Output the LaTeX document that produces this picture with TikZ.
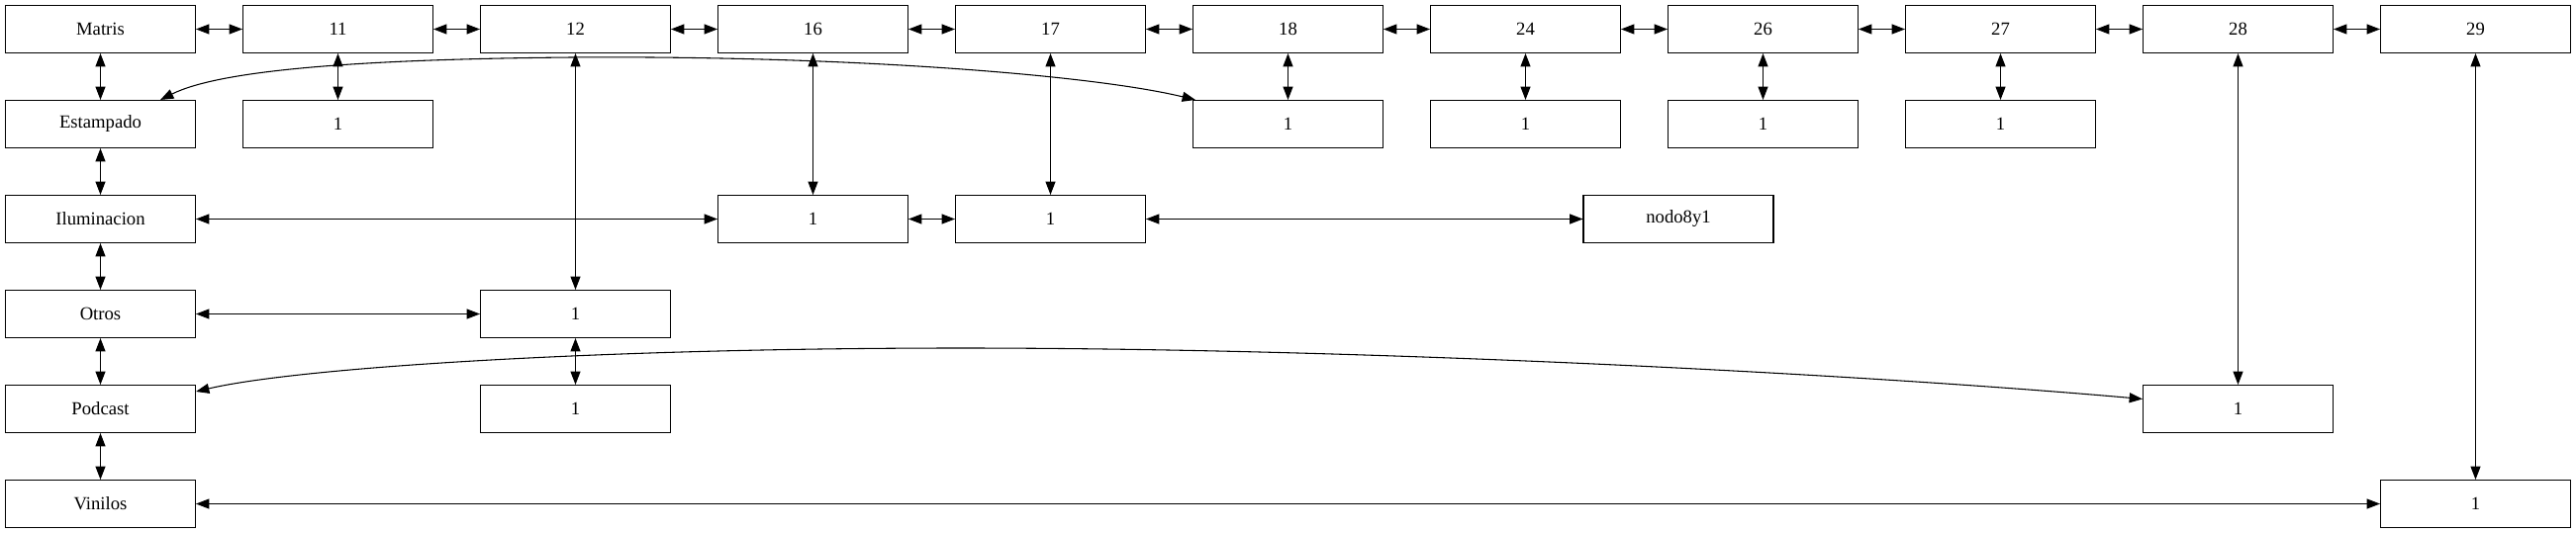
\documentclass[tikz,border=0pt]{standalone}
\usepackage{fontspec}
\setmainfont{Liberation Serif}
\usetikzlibrary{arrows.meta,calc}
\begin{document}
\begin{tikzpicture}[x=0.75pt,y=-0.75pt,
  box/.style={draw,line width=0.8pt,minimum width=144pt,minimum height=36pt,inner sep=0pt,font=\fontsize{14}{16}\selectfont},
  link/.style={line width=0.8pt,{Triangle[length=10pt,width=7.5pt]}-{Triangle[length=10pt,width=7.5pt]}}]
\useasboundingbox (0,0) rectangle (2603,539);
% row 0
\node[box] (m)   at (101.5,29.5) {Matris};
\node[box] (n11) at (341.5,29.5) {11};
\node[box] (n12) at (581.5,29.5) {12};
\node[box] (n16) at (821.5,29.5) {16};
\node[box] (n17) at (1061.5,29.5) {17};
\node[box] (n18) at (1301.5,29.5) {18};
\node[box] (n24) at (1541.5,29.5) {24};
\node[box] (n26) at (1781.5,29.5) {26};
\node[box] (n27) at (2021.5,29.5) {27};
\node[box] (n28) at (2261.5,29.5) {28};
\node[box] (n29) at (2501.5,29.5) {29};
% row 1
\node[box] (est) at (101.5,125.5) {Estampado};
\node[box] (a11) at (341.5,125.5) {1};
\node[box] (a18) at (1301.5,125.5) {1};
\node[box] (a24) at (1541.5,125.5) {1};
\node[box] (a26) at (1781.5,125.5) {1};
\node[box] (a27) at (2021.5,125.5) {1};
% row 2
\node[box] (ilu) at (101.5,221.5) {Iluminacion};
\node[box] (b16) at (821.5,221.5) {1};
\node[box] (b17) at (1061.5,221.5) {1};
\node[box] (nodo) at (1696,221.5) {nodo8y1};
% row 3
\node[box] (otr) at (101.5,317.5) {Otros};
\node[box] (c12) at (581.5,317.5) {1};
% row 4
\node[box] (pod) at (101.5,413.5) {Podcast};
\node[box] (d12) at (581.5,413.5) {1};
\node[box] (d28) at (2261.5,413.5) {1};
% row 5
\node[box] (vin) at (101.5,509.5) {Vinilos};
\node[box] (e29) at (2501.5,509.5) {1};
% top chain
\draw[link] (m) -- (n11);
\draw[link] (n11) -- (n12);
\draw[link] (n12) -- (n16);
\draw[link] (n16) -- (n17);
\draw[link] (n17) -- (n18);
\draw[link] (n18) -- (n24);
\draw[link] (n24) -- (n26);
\draw[link] (n26) -- (n27);
\draw[link] (n27) -- (n28);
\draw[link] (n28) -- (n29);
% left chain
\draw[link] (m) -- (est);
\draw[link] (est) -- (ilu);
\draw[link] (ilu) -- (otr);
\draw[link] (otr) -- (pod);
\draw[link] (pod) -- (vin);
% verticals
\draw[link] (n11) -- (a11);
\draw[link] (n12) -- (c12);
\draw[link] (c12) -- (d12);
\draw[link] (n16) -- (b16);
\draw[link] (n17) -- (b17);
\draw[link] (n18) -- (a18);
\draw[link] (n24) -- (a24);
\draw[link] (n26) -- (a26);
\draw[link] (n27) -- (a27);
\draw[link] (n28) -- (d28);
\draw[link] (n29) -- (e29);
% horizontals
\draw[link] (ilu) -- (b16);
\draw[link] (b16) -- (b17);
\draw[link] (b17) -- (nodo);
\draw[link] (otr) -- (c12);
\draw[link] (vin) -- (e29);
% curves
\draw[link] ($(est.north east)+(-36,0)$) .. controls (220,72) and (350,60) .. (578,58)
  .. controls (850,56) and (1100,75) .. ($(a18.north west)+(3,0)$);
\draw[link] ($(pod.north east)+(0,7)$) .. controls (300,372) and (600,352) .. (971,352)
  .. controls (1400,352) and (1900,380) .. ($(d28.north west)+(0,14.5)$);
\end{tikzpicture}
\end{document}
